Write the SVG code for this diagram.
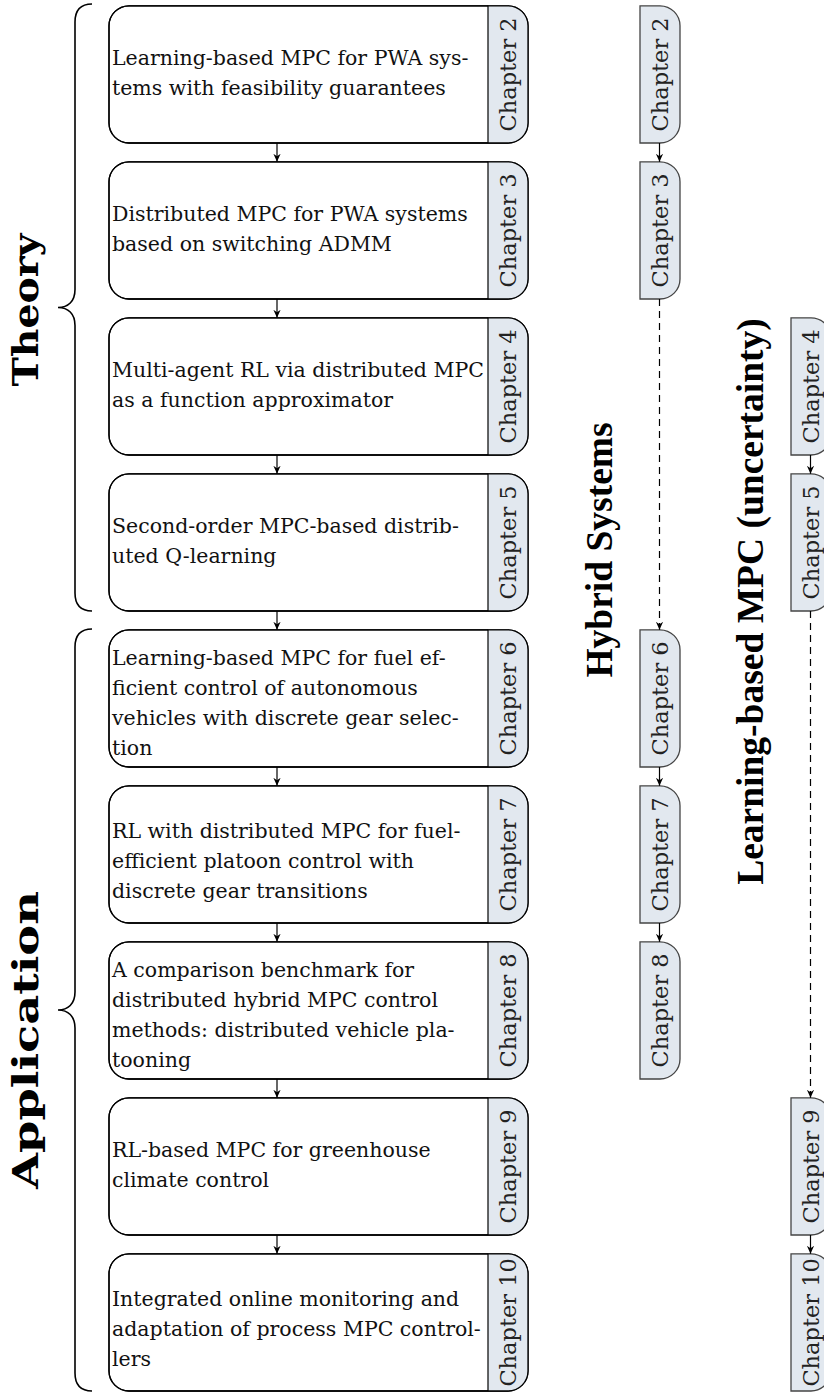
<svg xmlns="http://www.w3.org/2000/svg" width="824" height="1392" viewBox="0 0 824 1392">
<style>
.box{fill:#fff;stroke:#000;stroke-width:1.3}
.outline{fill:none;stroke:#000;stroke-width:1.3}
.tab{fill:#e2e8ef;stroke:none}
.sep{stroke:#000;stroke-width:1.2}
.stab{fill:#e2e8ef;stroke:#444;stroke-width:1.3}
.body{font-family:"DejaVu Serif","Liberation Serif",serif;font-size:20.5px;fill:#111}
.ch{font-family:"DejaVu Serif","Liberation Serif",serif;font-size:22.5px;fill:#222;text-anchor:middle}
.title{font-family:"Liberation Serif","DejaVu Serif",serif;font-weight:bold;font-size:37.5px;fill:#000;text-anchor:middle}
.title2{font-family:"DejaVu Serif","Liberation Serif",serif;font-weight:bold;font-size:36px;fill:#000;text-anchor:middle}
.conn{stroke:#000;stroke-width:1.2;fill:none}
.dash{stroke-dasharray:7 5}
.brace{fill:none;stroke:#000;stroke-width:1.6}
</style>
<defs>
<marker id="ah" viewBox="0 0 10 10" refX="10" refY="5" markerWidth="8" markerHeight="8" orient="auto" markerUnits="userSpaceOnUse">
<path d="M0,0.5 L10,5 L0,9.5 L3,5 Z" fill="#000"/>
</marker>
</defs>

<g id="theory-label">
<path class="brace" d="M92 4 C80 4 75 10 75 22 L75 289.5 C75 301.5 68 307.5 58 307.5 C68 307.5 75 313.5 75 325.5 L75 593 C75 605 80 611 92 611"/>
<text class="title2" transform="translate(38 310) rotate(-90)" textLength="153" lengthAdjust="spacingAndGlyphs">Theory</text>
</g>
<g id="application-label">
<path class="brace" d="M92 629 C80 629 75 635 75 647 L75 992 C75 1004 68 1010 58 1010 C68 1010 75 1016 75 1028 L75 1373 C75 1385 80 1391 92 1391"/>
<text class="title2" transform="translate(38 1040) rotate(-90)" textLength="298" lengthAdjust="spacingAndGlyphs">Application</text>
</g>

<g id="box2">
<rect class="box" x="109" y="5.8" width="419" height="137.2" rx="20"/>
<path class="tab" d="M488 5.8 H508 A20 20 0 0 1 528 25.8 V123 A20 20 0 0 1 508 143 H488 Z"/>
<rect class="outline" x="109" y="5.8" width="419" height="137.2" rx="20"/>
<line class="sep" x1="488" y1="5.8" x2="488" y2="143"/>
<text class="body" x="112" y="65.4">Learning-based MPC for PWA sys-</text>
<text class="body" x="112" y="95.4">tems with feasibility guarantees</text>
<text class="ch" transform="translate(516 74.4) rotate(-90)">Chapter 2</text>
</g>
<g id="box3">
<rect class="box" x="109" y="161.8" width="419" height="137.2" rx="20"/>
<path class="tab" d="M488 161.8 H508 A20 20 0 0 1 528 181.8 V279 A20 20 0 0 1 508 299 H488 Z"/>
<rect class="outline" x="109" y="161.8" width="419" height="137.2" rx="20"/>
<line class="sep" x1="488" y1="161.8" x2="488" y2="299"/>
<text class="body" x="112" y="221.4">Distributed MPC for PWA systems</text>
<text class="body" x="112" y="251.4">based on switching ADMM</text>
<text class="ch" transform="translate(516 230.4) rotate(-90)">Chapter 3</text>
</g>
<g id="box4">
<rect class="box" x="109" y="317.8" width="419" height="137.2" rx="20"/>
<path class="tab" d="M488 317.8 H508 A20 20 0 0 1 528 337.8 V435 A20 20 0 0 1 508 455 H488 Z"/>
<rect class="outline" x="109" y="317.8" width="419" height="137.2" rx="20"/>
<line class="sep" x1="488" y1="317.8" x2="488" y2="455"/>
<text class="body" x="112" y="377.4">Multi-agent RL via distributed MPC</text>
<text class="body" x="112" y="407.4">as a function approximator</text>
<text class="ch" transform="translate(516 386.4) rotate(-90)">Chapter 4</text>
</g>
<g id="box5">
<rect class="box" x="109" y="473.8" width="419" height="137.2" rx="20"/>
<path class="tab" d="M488 473.8 H508 A20 20 0 0 1 528 493.8 V591 A20 20 0 0 1 508 611 H488 Z"/>
<rect class="outline" x="109" y="473.8" width="419" height="137.2" rx="20"/>
<line class="sep" x1="488" y1="473.8" x2="488" y2="611"/>
<text class="body" x="112" y="533.4">Second-order MPC-based distrib-</text>
<text class="body" x="112" y="563.4">uted Q-learning</text>
<text class="ch" transform="translate(516 542.4) rotate(-90)">Chapter 5</text>
</g>
<g id="box6">
<rect class="box" x="109" y="629.8" width="419" height="137.2" rx="20"/>
<path class="tab" d="M488 629.8 H508 A20 20 0 0 1 528 649.8 V747 A20 20 0 0 1 508 767 H488 Z"/>
<rect class="outline" x="109" y="629.8" width="419" height="137.2" rx="20"/>
<line class="sep" x1="488" y1="629.8" x2="488" y2="767"/>
<text class="body" x="112" y="665.4">Learning-based MPC for fuel ef-</text>
<text class="body" x="112" y="695.4">ficient control of autonomous</text>
<text class="body" x="112" y="725.4">vehicles with discrete gear selec-</text>
<text class="body" x="112" y="755.4">tion</text>
<text class="ch" transform="translate(516 698.4) rotate(-90)">Chapter 6</text>
</g>
<g id="box7">
<rect class="box" x="109" y="785.8" width="419" height="137.2" rx="20"/>
<path class="tab" d="M488 785.8 H508 A20 20 0 0 1 528 805.8 V903 A20 20 0 0 1 508 923 H488 Z"/>
<rect class="outline" x="109" y="785.8" width="419" height="137.2" rx="20"/>
<line class="sep" x1="488" y1="785.8" x2="488" y2="923"/>
<text class="body" x="112" y="838.4">RL with distributed MPC for fuel-</text>
<text class="body" x="112" y="868.4">efficient platoon control with</text>
<text class="body" x="112" y="898.4">discrete gear transitions</text>
<text class="ch" transform="translate(516 854.4) rotate(-90)">Chapter 7</text>
</g>
<g id="box8">
<rect class="box" x="109" y="941.8" width="419" height="137.2" rx="20"/>
<path class="tab" d="M488 941.8 H508 A20 20 0 0 1 528 961.8 V1059 A20 20 0 0 1 508 1079 H488 Z"/>
<rect class="outline" x="109" y="941.8" width="419" height="137.2" rx="20"/>
<line class="sep" x1="488" y1="941.8" x2="488" y2="1079"/>
<text class="body" x="112" y="977.4">A comparison benchmark for</text>
<text class="body" x="112" y="1007.4">distributed hybrid MPC control</text>
<text class="body" x="112" y="1037.4">methods: distributed vehicle pla-</text>
<text class="body" x="112" y="1067.4">tooning</text>
<text class="ch" transform="translate(516 1010.4) rotate(-90)">Chapter 8</text>
</g>
<g id="box9">
<rect class="box" x="109" y="1097.8" width="419" height="137.2" rx="20"/>
<path class="tab" d="M488 1097.8 H508 A20 20 0 0 1 528 1117.8 V1215 A20 20 0 0 1 508 1235 H488 Z"/>
<rect class="outline" x="109" y="1097.8" width="419" height="137.2" rx="20"/>
<line class="sep" x1="488" y1="1097.8" x2="488" y2="1235"/>
<text class="body" x="112" y="1157.4">RL-based MPC for greenhouse</text>
<text class="body" x="112" y="1187.4">climate control</text>
<text class="ch" transform="translate(516 1166.4) rotate(-90)">Chapter 9</text>
</g>
<g id="box10">
<rect class="box" x="109" y="1253.8" width="419" height="137.2" rx="20"/>
<path class="tab" d="M488 1253.8 H508 A20 20 0 0 1 528 1273.8 V1371 A20 20 0 0 1 508 1391 H488 Z"/>
<rect class="outline" x="109" y="1253.8" width="419" height="137.2" rx="20"/>
<line class="sep" x1="488" y1="1253.8" x2="488" y2="1391"/>
<text class="body" x="112" y="1306.4">Integrated online monitoring and</text>
<text class="body" x="112" y="1336.4">adaptation of process MPC control-</text>
<text class="body" x="112" y="1366.4">lers</text>
<text class="ch" transform="translate(516 1322.4) rotate(-90)">Chapter 10</text>
</g>

<g id="hybrid-label">
<text class="title" transform="translate(612 550) rotate(-90)">Hybrid Systems</text>
</g>
<g id="h-ch2">
<path class="stab" d="M640 5.8 H660 A20 20 0 0 1 680 25.8 V123 A20 20 0 0 1 660 143 H640 Z"/>
<text class="ch" transform="translate(668 74.4) rotate(-90)">Chapter 2</text>
</g>
<g id="h-ch3">
<path class="stab" d="M640 161.8 H660 A20 20 0 0 1 680 181.8 V279 A20 20 0 0 1 660 299 H640 Z"/>
<text class="ch" transform="translate(668 230.4) rotate(-90)">Chapter 3</text>
</g>
<g id="h-ch6">
<path class="stab" d="M640 629.8 H660 A20 20 0 0 1 680 649.8 V747 A20 20 0 0 1 660 767 H640 Z"/>
<text class="ch" transform="translate(668 698.4) rotate(-90)">Chapter 6</text>
</g>
<g id="h-ch7">
<path class="stab" d="M640 785.8 H660 A20 20 0 0 1 680 805.8 V903 A20 20 0 0 1 660 923 H640 Z"/>
<text class="ch" transform="translate(668 854.4) rotate(-90)">Chapter 7</text>
</g>
<g id="h-ch8">
<path class="stab" d="M640 941.8 H660 A20 20 0 0 1 680 961.8 V1059 A20 20 0 0 1 660 1079 H640 Z"/>
<text class="ch" transform="translate(668 1010.4) rotate(-90)">Chapter 8</text>
</g>

<g id="learning-label">
<text class="title" transform="translate(763 601.5) rotate(-90)">Learning-based MPC (uncertainty)</text>
</g>
<g id="l-ch4">
<path class="stab" d="M791 317.8 H811 A20 20 0 0 1 831 337.8 V435 A20 20 0 0 1 811 455 H791 Z"/>
<text class="ch" transform="translate(819 386.4) rotate(-90)">Chapter 4</text>
</g>
<g id="l-ch5">
<path class="stab" d="M791 473.8 H811 A20 20 0 0 1 831 493.8 V591 A20 20 0 0 1 811 611 H791 Z"/>
<text class="ch" transform="translate(819 542.4) rotate(-90)">Chapter 5</text>
</g>
<g id="l-ch9">
<path class="stab" d="M791 1097.8 H811 A20 20 0 0 1 831 1117.8 V1215 A20 20 0 0 1 811 1235 H791 Z"/>
<text class="ch" transform="translate(819 1166.4) rotate(-90)">Chapter 9</text>
</g>
<g id="l-ch10">
<path class="stab" d="M791 1253.8 H811 A20 20 0 0 1 831 1273.8 V1371 A20 20 0 0 1 811 1391 H791 Z"/>
<text class="ch" transform="translate(819 1322.4) rotate(-90)">Chapter 10</text>
</g>

<g id="connectors">
<line class="conn" x1="277" y1="143" x2="277" y2="161.8" marker-end="url(#ah)"/>
<line class="conn" x1="277" y1="299" x2="277" y2="317.8" marker-end="url(#ah)"/>
<line class="conn" x1="277" y1="455" x2="277" y2="473.8" marker-end="url(#ah)"/>
<line class="conn" x1="277" y1="611" x2="277" y2="629.8" marker-end="url(#ah)"/>
<line class="conn" x1="277" y1="767" x2="277" y2="785.8" marker-end="url(#ah)"/>
<line class="conn" x1="277" y1="923" x2="277" y2="941.8" marker-end="url(#ah)"/>
<line class="conn" x1="277" y1="1079" x2="277" y2="1097.8" marker-end="url(#ah)"/>
<line class="conn" x1="277" y1="1235" x2="277" y2="1253.8" marker-end="url(#ah)"/>
<line class="conn" x1="659.5" y1="143" x2="659.5" y2="161.8" marker-end="url(#ah)"/>
<line class="conn dash" x1="659.5" y1="299" x2="659.5" y2="629.8" marker-end="url(#ah)"/>
<line class="conn" x1="659.5" y1="767" x2="659.5" y2="785.8" marker-end="url(#ah)"/>
<line class="conn" x1="659.5" y1="923" x2="659.5" y2="941.8" marker-end="url(#ah)"/>
<line class="conn" x1="810.5" y1="455" x2="810.5" y2="473.8" marker-end="url(#ah)"/>
<line class="conn dash" x1="810.5" y1="611" x2="810.5" y2="1097.8" marker-end="url(#ah)"/>
<line class="conn" x1="810.5" y1="1235" x2="810.5" y2="1253.8" marker-end="url(#ah)"/>
</g>
</svg>
